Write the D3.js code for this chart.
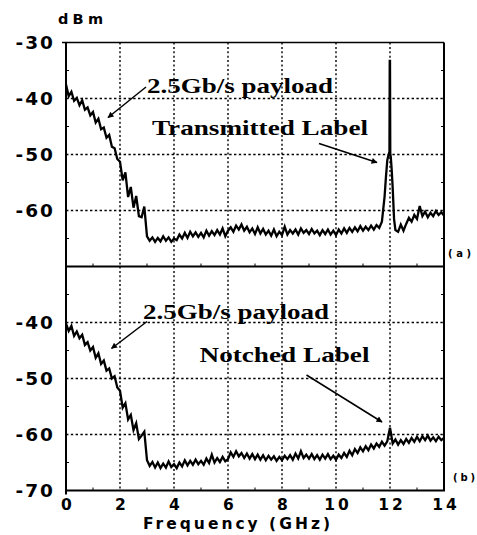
<!DOCTYPE html>
<html><head><meta charset="utf-8">
<script src="https://cdn.jsdelivr.net/npm/d3@7"></script>
<style>
html,body{margin:0;padding:0;background:#fff;}
svg{display:block;}
</style></head>
<body>
<svg id="chart" width="477" height="535"></svg>
<script>
// ---------- DATA ----------
const freqs = d3.range(0, 141).map(i => i / 10);           // GHz, 0.1 GHz grid
const xTicks = [0, 2, 4, 6, 8, 10, 12, 14];
const xMinor = [1, 3, 5, 7, 9, 11, 13];
const yTicksTop = [-30, -40, -50, -60];
const yTicksBottom = [-40, -50, -60, -70];
const yGrid = [-40, -50, -60];
const yMinor = [-35, -45, -55, -65];

// (a) transmitted label spectrum, dBm
const topVals = [
 -37.5,-39.6,-38.8,-40.4,-39.9,-41.2,-40.3,-42.0,-41.6,-43.0,
 -42.4,-44.3,-43.6,-45.5,-45.2,-47.0,-46.5,-48.6,-48.9,-50.8,
 -51.3,-54.6,-53.2,-57.6,-55.8,-59.5,-57.4,-61.0,-61.2,-59.3,
 -64.6,-65.4,-64.8,-65.6,-64.9,-65.5,-64.6,-65.4,-64.8,-65.6,
 -65.0,-65.3,-64.3,-65.0,-64.0,-64.9,-63.8,-64.6,-63.9,-64.7,
 -64.0,-64.8,-63.6,-64.5,-63.7,-64.4,-63.5,-64.3,-63.2,-64.6,
 -63.6,-63.0,-63.8,-62.7,-63.4,-62.5,-63.6,-62.9,-63.9,-63.2,
 -64.2,-63.0,-64.1,-63.3,-64.3,-63.6,-64.5,-63.4,-64.6,-63.8,
 -64.4,-62.9,-64.3,-63.5,-64.1,-63.4,-64.3,-63.2,-64.0,-63.5,
 -64.2,-63.3,-64.1,-63.6,-64.4,-63.5,-64.2,-63.4,-64.3,-63.6,
 -64.4,-63.4,-64.1,-63.2,-64.0,-63.1,-63.8,-63.0,-63.7,-62.8,
 -63.6,-62.9,-63.5,-62.7,-63.4,-62.6,-63.1,-62.0,-57.0,-50.5,
 -33.3,-52.0,-61.5,-63.8,-62.5,-63.6,-62.4,-61.3,-62.0,-60.8,
 -61.5,-59.2,-61.0,-60.2,-61.2,-60.4,-61.0,-60.1,-60.8,-60.3,
 -60.9
];
// finer detail of the label / carrier peak near 12 GHz in (a)
const peakFreqs = [11.8, 11.85, 11.9, 11.95, 11.98, 11.99, 12.0, 12.01, 12.03, 12.06, 12.1, 12.15, 12.2];
const peakVals  = [-57.5, -54.0, -51.0, -50.0, -49.5, -33.3, -33.3, -49.8, -50.5, -52.5, -56.0, -61.5, -63.5];

// (b) notched label spectrum, dBm
const bottomVals = [
 -40.2,-41.5,-40.6,-42.4,-41.6,-42.8,-42.2,-44.0,-43.5,-45.0,
 -44.4,-46.3,-45.5,-47.4,-46.8,-48.6,-48.2,-50.0,-49.6,-51.6,
 -52.2,-55.2,-54.4,-57.3,-56.5,-59.2,-58.0,-60.8,-60.2,-59.5,
 -64.6,-65.6,-64.9,-65.9,-65.0,-66.0,-65.2,-65.9,-64.8,-65.8,
 -65.3,-66.0,-65.0,-65.7,-64.6,-65.5,-64.7,-65.4,-64.5,-65.3,
 -64.7,-65.4,-64.3,-65.1,-63.6,-65.0,-64.2,-64.9,-64.0,-64.8,
 -64.4,-63.2,-64.0,-63.0,-63.9,-63.3,-64.2,-63.4,-64.3,-63.5,
 -64.4,-63.6,-64.5,-63.7,-64.6,-63.8,-64.5,-63.9,-64.7,-64.0,
 -64.6,-63.8,-64.4,-63.7,-64.5,-63.4,-64.3,-63.0,-64.2,-63.6,
 -64.3,-63.5,-64.4,-63.7,-64.5,-63.6,-64.3,-63.5,-64.4,-63.8,
 -64.5,-63.6,-64.2,-63.3,-64.0,-62.9,-63.7,-62.6,-63.3,-62.3,
 -63.0,-62.1,-62.8,-61.8,-62.5,-61.6,-62.2,-61.3,-62.0,-61.2,
 -58.8,-61.6,-60.9,-61.8,-61.0,-61.7,-60.8,-61.5,-60.6,-61.3,
 -60.4,-61.2,-60.3,-61.0,-60.2,-61.1,-60.5,-61.2,-60.4,-61.0,
 -60.6
];

const panelLabels = ["(a)", "(b)"];
const payloadText = "2.5Gb/s payload";
const labelTexts = ["Transmitted Label", "Notched Label"];

// ---------- LAYOUT ----------
const svg = d3.select("#chart");
const X0 = 66, X1 = 444;
const Ytop = 42.5, Ymid = 266.5, Ybot = 490.5;

const x = d3.scaleLinear().domain([0, 14]).range([X0, X1]);
const yA = d3.scaleLinear().domain([-70, -30]).range([Ymid, Ytop]);
const yB = d3.scaleLinear().domain([-70, -30]).range([Ybot, Ymid]);

const sans = "'DejaVu Sans', Verdana, sans-serif";
const serif = "'Liberation Serif', 'Times New Roman', serif";

svg.append("defs").append("marker")
  .attr("id", "arr").attr("viewBox", "0 0 10 10")
  .attr("refX", 9).attr("refY", 5)
  .attr("markerWidth", 8).attr("markerHeight", 6)
  .attr("markerUnits", "userSpaceOnUse")
  .attr("orient", "auto")
  .append("path").attr("d", "M0,0 L10,5 L0,10 Z").attr("fill", "#000");

function panel(y) {
  const g = svg.append("g");
  g.selectAll(".vg").data(xTicks.filter(t => t > 0 && t < 14)).join("line")
    .attr("x1", d => x(d)).attr("x2", d => x(d))
    .attr("y1", y(-30)).attr("y2", y(-70))
    .attr("stroke", "#000").attr("stroke-width", 1.4).attr("stroke-dasharray", "2,2.4");
  g.selectAll(".hg").data(yGrid).join("line")
    .attr("x1", X0).attr("x2", X1)
    .attr("y1", d => y(d)).attr("y2", d => y(d))
    .attr("stroke", "#000").attr("stroke-width", 1.4).attr("stroke-dasharray", "2.4,2.4");
  g.selectAll(".ml").data(yMinor).join("line")
    .attr("x1", X0).attr("x2", X0 + 3).attr("y1", d => y(d)).attr("y2", d => y(d))
    .attr("stroke", "#000").attr("stroke-width", 1);
  g.selectAll(".mr").data(yMinor).join("line")
    .attr("x1", X1).attr("x2", X1 - 3).attr("y1", d => y(d)).attr("y2", d => y(d))
    .attr("stroke", "#000").attr("stroke-width", 1);
  g.selectAll(".mb").data(xMinor).join("line")
    .attr("x1", d => x(d)).attr("x2", d => x(d)).attr("y1", y(-70)).attr("y2", y(-70) - 3)
    .attr("stroke", "#000").attr("stroke-width", 1);
  return g;
}
panel(yA);
panel(yB);

const pointsA = freqs.map((f, i) => ({ f, v: topVals[i] }))
  .filter(p => p.f < 11.75 || p.f > 12.25)
  .concat(peakFreqs.map((f, i) => ({ f, v: peakVals[i] })))
  .sort((a, b) => a.f - b.f);
const pointsB = freqs.map((f, i) => ({ f, v: bottomVals[i] }));

svg.append("path").datum(pointsA)
  .attr("d", d3.line().x(d => x(d.f)).y(d => yA(d.v)))
  .attr("fill", "none").attr("stroke", "#000").attr("stroke-width", 2.3).attr("stroke-linejoin", "miter");
svg.append("path").datum(pointsB)
  .attr("d", d3.line().x(d => x(d.f)).y(d => yB(d.v)))
  .attr("fill", "none").attr("stroke", "#000").attr("stroke-width", 2.3).attr("stroke-linejoin", "miter");

const frame = svg.append("g").attr("stroke", "#000").attr("fill", "none");
frame.append("line").attr("x1", X0 - 4).attr("x2", X1).attr("y1", Ytop).attr("y2", Ytop).attr("stroke-width", 1.6);
frame.append("line").attr("x1", X0).attr("x2", X1).attr("y1", Ymid).attr("y2", Ymid).attr("stroke-width", 2);
frame.append("line").attr("x1", X0).attr("x2", X1 + 1).attr("y1", Ybot).attr("y2", Ybot).attr("stroke-width", 2);
frame.append("line").attr("x1", X0).attr("x2", X0).attr("y1", Ytop).attr("y2", Ybot + 4).attr("stroke-width", 2);
frame.append("line").attr("x1", X1).attr("x2", X1).attr("y1", Ytop).attr("y2", Ybot).attr("stroke-width", 2);

function yAxis(scale, vals) {
  const a = svg.append("g").attr("transform", `translate(${X0},0)`)
    .call(d3.axisLeft(scale).tickValues(vals).tickSize(0).tickPadding(11).tickFormat(d => String(d)));
  a.select(".domain").remove();
  a.selectAll("text").attr("font-family", sans).attr("font-weight", "bold")
    .attr("font-size", 18.5).attr("fill", "#000").attr("letter-spacing", "2px")
    .attr("dy", "0.3em");
}
yAxis(yA, yTicksTop);
yAxis(yB, yTicksBottom);

const xa = svg.append("g").attr("transform", `translate(0,${Ybot})`)
  .call(d3.axisBottom(x).tickValues(xTicks).tickSize(0).tickPadding(8).tickFormat(d => String(d)));
xa.select(".domain").remove();
xa.selectAll("text").attr("font-family", sans).attr("font-weight", "bold")
  .attr("font-size", 15.5).attr("fill", "#000").attr("letter-spacing", "3px")
  .attr("dx", "1.5px");

svg.append("text").attr("x", 143).attr("y", 529)
  .attr("textLength", 187).attr("lengthAdjust", "spacing")
  .attr("font-family", sans).attr("font-weight", "bold").attr("font-size", 15.5)
  .text("Frequency (GHz)");

svg.append("text").attr("x", 58).attr("y", 23.5)
  .attr("textLength", 45).attr("lengthAdjust", "spacing")
  .attr("font-family", sans).attr("font-weight", "bold").attr("font-size", 14.5)
  .text("dBm");

svg.append("text").attr("x", 448).attr("y", 256.5).attr("font-family", sans)
  .attr("font-size", 10).attr("font-weight", "bold").attr("textLength", 23).attr("lengthAdjust", "spacing")
  .text(panelLabels[0]);
svg.append("text").attr("x", 453).attr("y", 480.5).attr("font-family", sans)
  .attr("font-size", 10).attr("font-weight", "bold").attr("textLength", 22).attr("lengthAdjust", "spacing")
  .text(panelLabels[1]);

function ann(tx, ty, w, txt) {
  svg.append("text").attr("x", tx).attr("y", ty)
    .attr("textLength", w).attr("lengthAdjust", "spacingAndGlyphs")
    .attr("font-family", serif).attr("font-weight", "bold").attr("font-size", 22)
    .text(txt);
}
function arrow(x1, y1, x2, y2) {
  svg.append("line").attr("x1", x1).attr("y1", y1).attr("x2", x2).attr("y2", y2)
    .attr("stroke", "#000").attr("stroke-width", 1.5).attr("marker-end", "url(#arr)");
}
ann(147, 93, 186, payloadText);
ann(152, 135, 216, labelTexts[0]);
arrow(146, 87, 108, 117.5);
arrow(319, 143.5, 377, 162.5);

ann(143, 318.5, 186, payloadText);
ann(199.5, 361.5, 170, labelTexts[1]);
arrow(147, 321.5, 111.5, 348.5);
arrow(306.5, 375, 382, 422);
</script>
</body></html>
